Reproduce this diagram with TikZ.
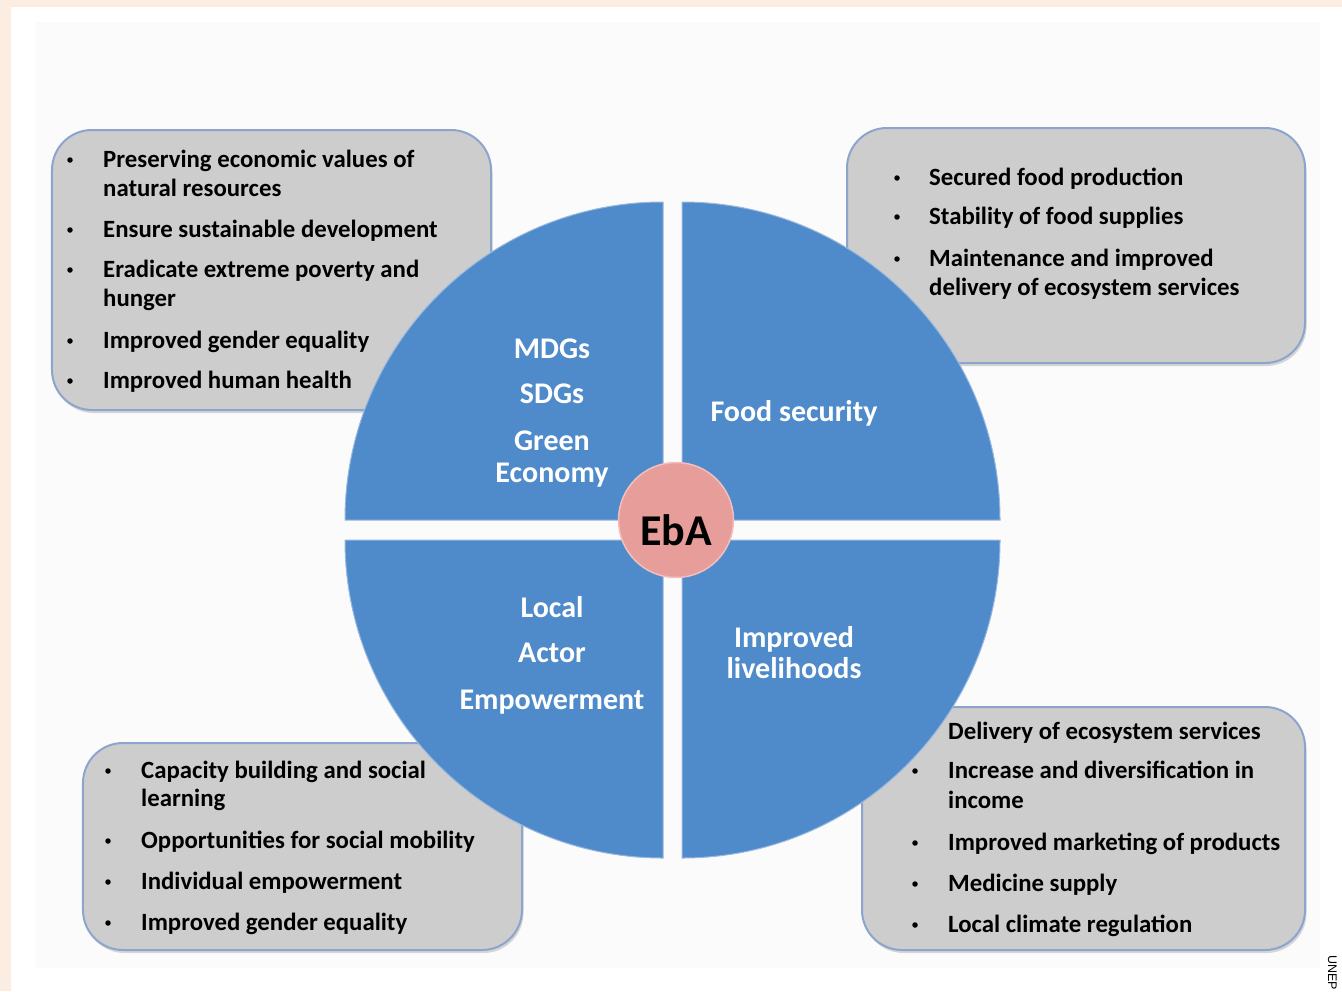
\documentclass[tikz,border=0pt]{standalone}
\usepackage{fontspec}
\setmainfont{Carlito}
\newfontfamily\creditfont{Liberation Sans}
\usetikzlibrary{shadows}

\definecolor{pagepeach}{RGB}{252,237,226}
\definecolor{panelwash}{RGB}{251,251,251}
\definecolor{quadblue}{RGB}{79,139,202}
\definecolor{quadedge}{RGB}{150,183,222}
\definecolor{boxgrey}{RGB}{205,205,205}
\definecolor{boxedge}{RGB}{140,165,205}
\definecolor{hubpink}{RGB}{231,157,153}
\definecolor{hubedge}{RGB}{242,192,188}

\begin{document}
\begin{tikzpicture}[x=1bp,y=-1bp,
  panel/.style={draw=boxedge, line width=2bp, fill=boxgrey, rounded corners=40bp,
    inner sep=0pt, drop shadow={opacity=0.3, shadow xshift=1.5bp, shadow yshift=-3bp}},
  quad/.style={fill=quadblue, draw=quadedge, line width=1bp},
  itemtext/.style={anchor=base west, inner sep=0pt, font=\bfseries\fontsize{24.8bp}{29.5bp}\selectfont},
  bulletmark/.style={circle, fill=black, inner sep=0pt, minimum size=5.5bp, yshift=7bp},
  qlabel/.style={anchor=base, inner sep=0pt, text=white, font=\bfseries\fontsize{30bp}{32bp}\selectfont},
]

% page background and framed panel
\fill[pagepeach] (0,0) rectangle (1342,991);
\fill[white] (11,7) rectangle (1342,991);
\fill[panelwash] (35,22) rectangle (1320,968);
\useasboundingbox (0,0) rectangle (1342,991);

% outcome boxes
\node[panel, minimum width=439bp, minimum height=280bp] (tlbox) at (271.5,270) {};
\node[panel, minimum width=458bp, minimum height=235bp] (trbox) at (1076,245.5) {};
\node[panel, minimum width=439bp, minimum height=207bp] (blbox) at (302.5,846.5) {};
\node[panel, minimum width=443bp, minimum height=243bp] (brbox) at (1083.5,828.5) {};

% four quarter discs
\path[quad] (663,520) -- ++(-318,0) arc[start angle=180, end angle=270, radius=318] -- cycle;
\path[quad] (682,520) -- ++(318,0) arc[start angle=0, end angle=-90, radius=318] -- cycle;
\path[quad] (663,540) -- ++(-318,0) arc[start angle=180, end angle=90, radius=318] -- cycle;
\path[quad] (682,540) -- ++(318,0) arc[start angle=0, end angle=90, radius=318] -- cycle;

% quadrant labels
\node[qlabel] (mdg) at (552,358) {MDGs};
\node[qlabel] (sdg) at (552,403) {SDGs};
\node[qlabel] (green) at (552,450) {Green};
\node[qlabel] (econ) at (552,482) {Economy};
\node[qlabel] (food) at (794,421) {Food security};
\node[qlabel] (impr) at (794,647) {Improved};
\node[qlabel] (live) at (794,678) {livelihoods};
\node[qlabel] (local) at (552,617) {Local};
\node[qlabel] (actor) at (552,662) {Actor};
\node[qlabel] (empow) at (552,709) {Empowerment};

% central hub
\node[circle, fill=hubpink, draw=hubedge, line width=1.5bp, minimum size=115bp, inner sep=0pt] (hub) at (676,520) {};
\node[anchor=base, inner sep=0pt, font=\bfseries\fontsize{44bp}{44bp}\selectfont] (hubtext) at (676,545) {EbA};

% top-left list
\node[bulletmark] (tlb1) at (70,167) {};
\node[itemtext] (tl1) at (103,167) {Preserving economic values of};
\node[itemtext] (tl1b) at (103,196) {natural resources};
\node[bulletmark] (tlb2) at (70,237) {};
\node[itemtext] (tl2) at (103,237) {Ensure sustainable development};
\node[bulletmark] (tlb3) at (70,277) {};
\node[itemtext] (tl3) at (103,277) {Eradicate extreme poverty and};
\node[itemtext] (tl3b) at (103,306) {hunger};
\node[bulletmark] (tlb4) at (70,348) {};
\node[itemtext] (tl4) at (103,348) {Improved gender equality};
\node[bulletmark] (tlb5) at (70,388) {};
\node[itemtext] (tl5) at (103,388) {Improved human health};

% top-right list
\node[bulletmark] (trb1) at (897,185) {};
\node[itemtext] (tr1) at (929,185) {Secured food production};
\node[bulletmark] (trb2) at (897,224) {};
\node[itemtext] (tr2) at (929,224) {Stability of food supplies};
\node[bulletmark] (trb3) at (897,266) {};
\node[itemtext] (tr3) at (929,266) {Maintenance and improved};
\node[itemtext] (tr3b) at (929,295) {delivery of ecosystem services};

% bottom-left list
\node[bulletmark] (blb1) at (108,778) {};
\node[itemtext] (bl1) at (141,778) {Capacity building and social};
\node[itemtext] (bl1b) at (141,806) {learning};
\node[bulletmark] (blb2) at (108,848) {};
\node[itemtext] (bl2) at (141,848) {Opportunities for social mobility};
\node[bulletmark] (blb3) at (108,889) {};
\node[itemtext] (bl3) at (141,889) {Individual empowerment};
\node[bulletmark] (blb4) at (108,930) {};
\node[itemtext] (bl4) at (141,930) {Improved gender equality};

% bottom-right list
\node[itemtext] (br1) at (948,739) {Delivery of ecosystem services};
\node[bulletmark] (brb2) at (915,778) {};
\node[itemtext] (br2) at (948,778) {Increase and diversification in};
\node[itemtext] (br2b) at (948,808) {income};
\node[bulletmark] (brb3) at (915,850) {};
\node[itemtext] (br3) at (948,850) {Improved marketing of products};
\node[bulletmark] (brb4) at (915,891) {};
\node[itemtext] (br4) at (948,891) {Medicine supply};
\node[bulletmark] (brb5) at (915,932) {};
\node[itemtext] (br5) at (948,932) {Local climate regulation};

% photo credit
\node[anchor=base west, rotate=-90, inner sep=0pt, font=\creditfont\fontsize{12.5bp}{12.5bp}\selectfont] (credit) at (1328,955) {UNEP};

\end{tikzpicture}
\end{document}
